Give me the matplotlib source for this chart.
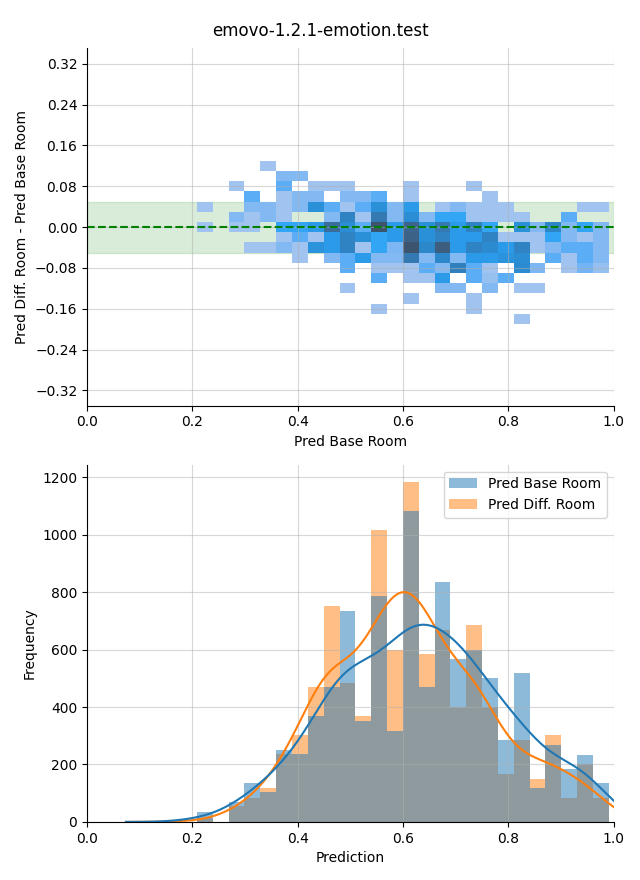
import numpy as np
import matplotlib
matplotlib.use("Agg")
import matplotlib.pyplot as plt
import seaborn as sns

title = "emovo-1.2.1-emotion.test"

# shared prediction bins (26 bins)
bin_lo, bin_hi, n_bins = 0.2087, 0.9905, 26

# bottom histogram counts per bin
base_counts = [36, 0, 70, 136, 103, 251, 235, 369, 470, 734, 353, 786, 318,
               1084, 470, 834, 567, 600, 501, 286, 518, 119, 268, 185, 234, 136]
diff_counts = [12, 0, 55, 85, 119, 235, 303, 470, 751, 484, 369, 1018, 600,
               1185, 584, 667, 400, 685, 400, 168, 286, 150, 303, 84, 202, 84]

# difference rows, centred on 0.12 down to -0.18 (step 0.02)
diff_row_centers = [0.12, 0.10, 0.08, 0.06, 0.04, 0.02, 0.00, -0.02, -0.04,
                    -0.06, -0.08, -0.10, -0.12, -0.14, -0.16, -0.18]
cell_counts = [
    [0,0,0,0,12,0,0,0,0,0,0,0,0,0,0,0,0,0,0,0,0,0,0,0,0,0],
    [0,0,0,0,0,35,35,0,0,0,0,0,0,0,0,0,0,0,0,0,0,0,0,0,0,0],
    [0,0,12,0,0,60,0,12,12,12,0,0,0,12,0,0,0,12,0,0,0,0,0,0,0,0],
    [0,0,0,60,0,12,35,35,0,35,35,60,0,12,0,0,0,0,12,0,0,0,0,0,0,0],
    [12,0,0,35,35,12,35,120,60,12,60,120,35,100,0,12,35,12,12,12,0,0,0,0,12,12],
    [0,0,35,12,35,12,0,0,35,145,12,165,35,125,35,80,80,12,12,12,12,0,0,60,0,0],
    [12,0,12,12,0,80,80,100,190,125,60,240,100,205,120,165,100,145,80,0,120,35,140,35,80,35],
    [0,0,0,0,0,12,60,12,100,145,120,80,100,210,120,145,100,100,145,12,12,12,80,35,12,35],
    [0,0,0,12,12,35,12,115,100,145,12,80,40,240,135,220,100,145,130,100,145,12,35,60,60,35],
    [0,0,0,0,0,0,12,0,35,60,100,35,35,165,35,135,35,100,100,115,125,0,60,12,60,35],
    [0,0,0,0,0,0,0,0,0,60,0,12,12,12,60,35,150,60,12,0,130,40,0,12,45,20],
    [0,0,0,0,0,0,0,0,0,0,0,60,0,12,12,100,0,60,20,60,0,0,0,0,0,0],
    [0,0,0,0,0,0,0,0,0,12,0,0,0,0,0,35,35,0,35,0,12,12,0,0,0,0],
    [0,0,0,0,0,0,0,0,0,0,0,0,0,12,0,0,0,12,0,0,0,0,0,0,0,0],
    [0,0,0,0,0,0,0,0,0,0,0,12,0,0,0,0,0,12,0,0,0,0,0,0,0,0],
    [0,0,0,0,0,0,0,0,0,0,0,0,0,0,0,0,0,0,0,0,12,0,0,0,0,0],
]

x_edges = np.linspace(bin_lo, bin_hi, n_bins + 1)
x_centers = (x_edges[:-1] + x_edges[1:]) / 2
y_edges = np.linspace(-0.19, 0.13, len(diff_row_centers) + 1)

# flatten the cells for seaborn
xs, ys, ws = [], [], []
for yc, row in zip(diff_row_centers, cell_counts):
    for xc, c in zip(x_centers, row):
        if c > 0:
            xs.append(xc)
            ys.append(yc)
            ws.append(c)

fig, (ax1, ax2) = plt.subplots(2, 1, figsize=(6.4, 8.8), dpi=100)
fig.subplots_adjust(left=0.136, right=0.959, top=0.945, bottom=0.066, hspace=0.165)

# top: 2d histogram of the difference
sns.histplot(x=xs, y=ys, weights=ws, bins=(x_edges, y_edges), ax=ax1)
ax1.axhspan(-0.05, 0.05, color="green", alpha=0.15, zorder=0)
ax1.axhline(0, color="green", linestyle="--", linewidth=1.5)
ax1.set_xlim(0, 1)
ax1.set_ylim(-0.35, 0.35)
ax1.set_yticks(np.linspace(-0.32, 0.32, 9))
ax1.set_xlabel("Pred Base Room")
ax1.set_ylabel("Pred Diff. Room - Pred Base Room")
ax1.grid(True, alpha=0.5)

# bottom: both prediction histograms with kde
# (weights on 26 bin centres make the default bandwidth far too wide)
kde_opts = {"cut": 2.5, "bw_adjust": 0.5}
sns.histplot(x=list(x_centers), weights=diff_counts, bins=n_bins,
             binrange=(bin_lo, bin_hi), kde=True, kde_kws=kde_opts,
             alpha=0.5, linewidth=0, color="C1", label="Pred Diff. Room", ax=ax2)
sns.histplot(x=list(x_centers), weights=base_counts, bins=n_bins,
             binrange=(bin_lo, bin_hi), kde=True, kde_kws=kde_opts,
             alpha=0.5, linewidth=0, color="C0", label="Pred Base Room", ax=ax2)
ax2.set_xlim(0, 1)
ax2.set_xlabel("Prediction")
ax2.set_ylabel("Frequency")
ax2.grid(True, alpha=0.5)
handles, labels = ax2.get_legend_handles_labels()
ax2.legend(handles[::-1], labels[::-1], loc="upper right")

sns.despine(fig)
fig.suptitle(title, y=0.975)
fig.savefig("out.png")
